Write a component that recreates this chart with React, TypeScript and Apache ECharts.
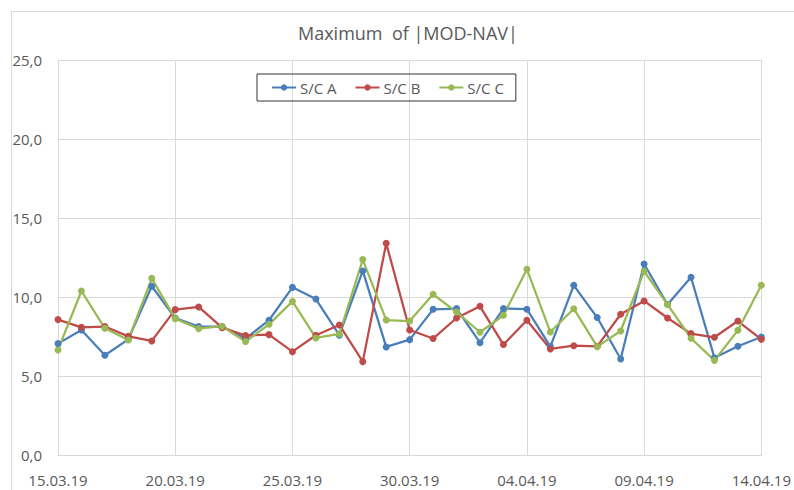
import React, { useEffect, useRef } from "react";
import * as echarts from "echarts";

const categories = [
  "15.03.19", "16.03.19", "17.03.19", "18.03.19", "19.03.19", "20.03.19", "21.03.19", "22.03.19",
  "23.03.19", "24.03.19", "25.03.19", "26.03.19", "27.03.19", "28.03.19", "29.03.19", "30.03.19",
  "31.03.19", "01.04.19", "02.04.19", "03.04.19", "04.04.19", "05.04.19", "06.04.19", "07.04.19",
  "08.04.19", "09.04.19", "10.04.19", "11.04.19", "12.04.19", "13.04.19", "14.04.19",
];

const seriesA = [
  7.05, 7.91, 6.31, 7.32, 10.68, 8.67, 8.13, 8.13, 7.37, 8.53, 10.61, 9.87, 7.58, 11.65, 6.84, 7.3,
  9.22, 9.27, 7.11, 9.27, 9.23, 6.86, 10.74, 8.7, 6.08, 12.09, 9.52, 11.25, 6.16, 6.88, 7.47,
];
const seriesB = [
  8.57, 8.08, 8.13, 7.51, 7.22, 9.2, 9.37, 8.06, 7.56, 7.62, 6.54, 7.58, 8.23, 5.91, 13.4, 7.91,
  7.37, 8.67, 9.41, 6.99, 8.53, 6.71, 6.92, 6.88, 8.91, 9.75, 8.67, 7.68, 7.45, 8.48, 7.32,
];
const seriesC = [
  6.65, 10.38, 8.02, 7.28, 11.18, 8.63, 8.0, 8.15, 7.18, 8.27, 9.72, 7.41, 7.66, 12.37, 8.54, 8.48,
  10.17, 9.05, 7.77, 8.84, 11.76, 7.78, 9.26, 6.86, 7.85, 11.63, 9.52, 7.39, 5.99, 7.89, 10.74,
];

const seriesNames = ["S/C A", "S/C B", "S/C C"];
const colors = ["#4A7EBB", "#BE4B48", "#98B954"];
const yTicks = { min: 0, max: 25, interval: 5 };
const titleText = "Maximum  of |MOD-NAV|";

const FONT = "'Open Sans', 'Noto Sans', sans-serif";

export default function App() {
  const ref = useRef<HTMLDivElement>(null);
  useEffect(() => {
    if (!ref.current) return;
    const chart = echarts.init(ref.current, undefined, { renderer: "svg" });
    const datasets = [seriesA, seriesB, seriesC];
    chart.setOption({
      animation: false,
      backgroundColor: "#ffffff",
      textStyle: { fontFamily: FONT },
      title: {
        text: titleText,
        left: 293,
        top: 19,
        textStyle: { fontFamily: FONT, fontSize: 18, fontWeight: "normal", color: "#595959" },
      },
      legend: {
        left: 257,
        top: 74,
        orient: "horizontal",
        borderColor: "#333333",
        borderWidth: 1,
        padding: [6, 12, 6, 14],
        itemGap: 18,
        itemWidth: 24,
        itemHeight: 8,
        textStyle: { fontFamily: FONT, fontSize: 15, color: "#595959", padding: [0, 0, 0, -1] },
        data: seriesNames,
      },
      graphic: [
        {
          type: "rect",
          left: 9,
          top: 9,
          shape: { x: 0, y: 0, width: 900, height: 900 },
          style: { fill: "none", stroke: "#d9d9d9", lineWidth: 1 },
          silent: true,
          z: -1,
        },
      ],
      grid: { left: 58, right: 28, top: 60, bottom: 35, containLabel: false },
      xAxis: {
        type: "category",
        data: categories,
        boundaryGap: false,
        axisLine: { show: true, lineStyle: { color: "#d9d9d9", width: 1 } },
        axisTick: { show: false },
        axisLabel: {
          interval: 4,
          margin: 17,
          fontFamily: FONT,
          fontSize: 15,
          color: "#595959",
        },
        splitLine: { show: true, interval: 4, lineStyle: { color: "#d9d9d9", width: 1 } },
      },
      yAxis: {
        type: "value",
        min: yTicks.min,
        max: yTicks.max,
        interval: yTicks.interval,
        axisLine: { show: false },
        axisTick: { show: false },
        axisLabel: {
          margin: 16,
          fontFamily: FONT,
          fontSize: 15,
          color: "#595959",
          formatter: (v: number) => v.toFixed(1).replace(".", ","),
        },
        splitLine: { show: true, lineStyle: { color: "#d9d9d9", width: 1 } },
      },
      series: datasets.map((d, i) => ({
        name: seriesNames[i],
        type: "line",
        data: d,
        symbol: "circle",
        symbolSize: 7,
        color: colors[i],
        lineStyle: { width: 2.25, color: colors[i] },
        itemStyle: { color: colors[i] },
      })),
    });
    return () => chart.dispose();
  }, []);
  return (
    <div
      ref={ref}
      style={{ position: "fixed", left: 0, top: 0, width: 794, height: 490 }}
    />
  );
}
